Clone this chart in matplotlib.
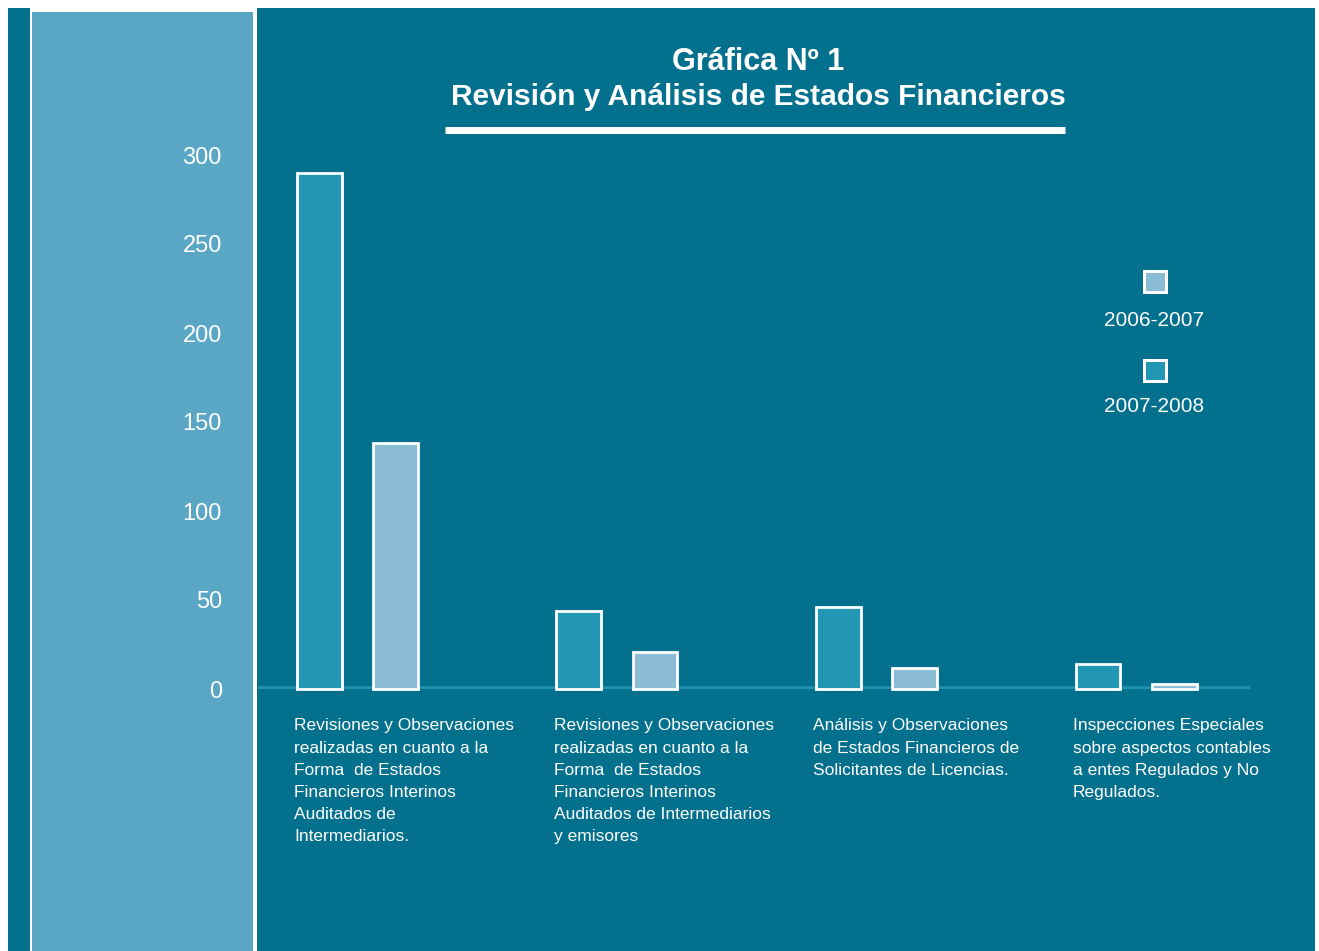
import matplotlib
matplotlib.use("Agg")
import matplotlib.pyplot as plt
from matplotlib.patches import Rectangle
from matplotlib.lines import Line2D

categories = [
    "Revisiones y Observaciones\nrealizadas en cuanto a la\nForma  de Estados\nFinancieros Interinos\nAuditados de\nIntermediarios.",
    "Revisiones y Observaciones\nrealizadas en cuanto a la\nForma  de Estados\nFinancieros Interinos\nAuditados de Intermediarios\ny emisores",
    "Análisis y Observaciones\nde Estados Financieros de\nSolicitantes de Licencias.",
    "Inspecciones Especiales\nsobre aspectos contables\na entes Regulados y No\nRegulados.",
]
vals_0708 = [290, 44, 46, 14]
vals_0607 = [138, 21, 12, 3]
yticks = [0, 50, 100, 150, 200, 250, 300]
series_names = ["2006-2007", "2007-2008"]

DARK = "#03708E"
STRIP = "#59A7C5"
C0708 = "#2197B3"
C0607 = "#8BBCD5"
BASE = "#1E93AF"

W, H = 1319, 951
FONT = ["Liberation Sans", "DejaVu Sans"]


def px_rect(fig, x0, y0, x1, y1, color):
    # rectangle given in image pixels (y from top)
    fig.add_artist(Rectangle((x0 / W, 1 - y1 / H), (x1 - x0) / W, (y1 - y0) / H,
                             transform=fig.transFigure, color=color, lw=0, zorder=0))


def main():
    fig = plt.figure(figsize=(W / 100, H / 100), dpi=100)
    fig.patch.set_facecolor("white")

    # background panels
    px_rect(fig, 8, 8, 1315, H, DARK)
    px_rect(fig, 30, 8, 257, H, "white")
    px_rect(fig, 32, 12, 253, H, STRIP)

    # title
    fig.text(758 / W, 1 - 62 / H, "Gráfica Nº 1", color="white", ha="center", va="center",
             fontsize=22, fontweight="bold", family=FONT)
    fig.text(758 / W, 1 - 97 / H, "Revisión y Análisis de Estados Financieros", color="white",
             ha="center", va="center", fontsize=21.5, fontweight="bold", family=FONT)
    fig.add_artist(Line2D([445 / W, 1065 / W], [1 - 130 / H, 1 - 130 / H], color="white",
                          lw=5, solid_capstyle="butt", transform=fig.transFigure))

    ax = fig.add_axes([258 / W, 1 - 689 / H, (1250 - 258) / W, (689 - 155) / H])
    ax.set_facecolor("none")
    for s in ax.spines.values():
        s.set_visible(False)

    x = list(range(len(categories)))
    width = 0.173
    off = 0.1465
    ax.bar([i - off for i in x], vals_0708, width, color=C0708, edgecolor="white",
           linewidth=2, zorder=3, clip_on=False)
    ax.bar([i + off for i in x], vals_0607, width, color=C0607, edgecolor="white",
           linewidth=2, zorder=3, clip_on=False)
    ax.axhline(0, color=BASE, lw=4, zorder=2)

    ax.set_xlim(-0.383, 3.439)
    ax.set_ylim(0, 300)
    ax.set_xticks([])
    ax.set_yticks(yticks)
    ax.set_yticklabels([str(t) for t in yticks], color="white", fontsize=17, family=FONT)
    ax.tick_params(axis="y", length=0, pad=26)

    for i, lab in enumerate(categories):
        ax.text(i - off - width / 2 - 0.01, -16.5, lab, color="white", ha="left", va="top",
                fontsize=12.5, family=FONT, linespacing=1.6, clip_on=False)

    # legend: square above label
    for name, col, cy, ly in zip(series_names, [C0607, C0708], [282, 371], [321, 407]):
        px_rect(fig, 1143, cy - 12, 1168, cy + 12, "white")
        px_rect(fig, 1146, cy - 9, 1165, cy + 9, col)
        fig.text(1154 / W, 1 - ly / H, name, color="white", ha="center", va="center",
                 fontsize=15, family=FONT)

    fig.savefig("out.png", dpi=100)


if __name__ == "__main__":
    main()
